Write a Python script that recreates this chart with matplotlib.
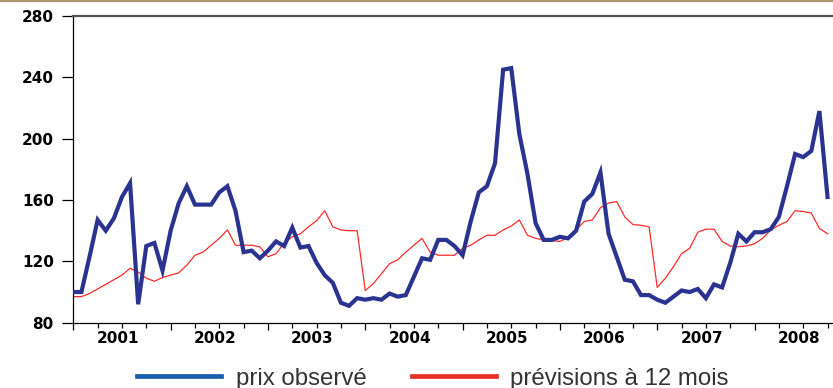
import matplotlib
matplotlib.use("Agg")
import matplotlib.pyplot as plt
from matplotlib.lines import Line2D
import matplotlib.transforms as mtransforms

# ---- data (monthly, Jan 2001 .. Oct 2008) ----
prix_observe = [100, 100, 123, 147, 140, 148, 162, 171, 92, 130, 132, 114,
                140, 158, 169, 157, 157, 157, 165, 169, 153, 126, 127, 122,
                127, 133, 130, 142, 129, 130, 119, 111, 106, 93, 91, 96,
                95, 96, 95, 99, 97, 98, 110, 122, 121, 134, 134, 130,
                124, 146, 165, 169, 184, 245, 246, 203, 177, 145, 134, 134,
                136, 135, 140, 159, 164, 178, 138, 123, 108, 107, 98, 98,
                95, 93, 97, 101, 100, 102, 96, 105, 103, 119, 138, 133,
                139, 139, 141, 149, 169, 190, 188, 192, 218, 162]
previsions_12m = [97, 97, 99, 102, 105, 108, 111, 115.5, 113, 109, 107, 109.5,
                  111, 112.5, 117.5, 124, 126, 130.5, 135, 140.5, 130.5, 130.5, 130.5, 129.5,
                  123, 125, 132, 136, 138, 142.5, 146.5, 153, 142.5, 140.5, 140, 140,
                  101, 105.5, 112, 118.5, 121, 126, 130.5, 135, 126, 124, 124, 124,
                  128.5, 130.5, 134, 137, 137, 140.5, 143, 147, 137, 135, 134, 133.5,
                  133, 135.5, 140.5, 146, 147, 155, 158, 159, 149, 144, 143.5, 142.5,
                  103, 109, 116.5, 125, 128.5, 139, 141, 141, 133, 130, 129.5, 130,
                  131.5, 135, 140.5, 143.5, 146, 153, 152.5, 151.5, 141.5, 138]
years = ["2001", "2002", "2003", "2004", "2005", "2006", "2007", "2008"]
y_ticks = [80, 120, 160, 200, 240, 280]
legend_labels = ["prix observé", "prévisions à 12 mois"]

months = list(range(len(prix_observe)))

W, H = 833, 388
fig = plt.figure(figsize=(W / 100, H / 100), dpi=100)
fig.patch.set_facecolor("white")

left_px, right_px, top_px, bottom_px = 73.3, 833.0, 16.0, 322.7
ax = fig.add_axes([left_px / W, (H - bottom_px) / H,
                   (right_px - left_px) / W, (bottom_px - top_px) / H])
ax.set_facecolor("white")

ax.plot(months, previsions_12m, color="#ff2b2b", lw=0.9, zorder=2)
ax.plot(months, prix_observe, color="#2b3391", lw=3.0, zorder=3,
        solid_joinstyle="miter")

ax.set_xlim(0, (right_px - left_px) / 8.11)
ax.set_ylim(80, 280)

# y axis
ax.set_yticks(y_ticks)
ax.set_yticklabels([str(v) for v in y_ticks])
ax.tick_params(axis="y", direction="out", length=8, width=0.9, pad=6,
               labelsize=11, colors="black")
for lab in ax.get_yticklabels():
    lab.set_fontweight("bold")
    lab.set_family("DejaVu Sans")

# x axis: year ticks + quarterly minor ticks, labels centered in year
n_years = len(years)
ax.set_xticks([12 * i for i in range(n_years)])
ax.set_xticklabels([""] * n_years)
ax.set_xticks([3 * i for i in range(4 * n_years)], minor=True)
ax.tick_params(axis="x", which="major", direction="out", length=5, width=0.9)
ax.tick_params(axis="x", which="minor", direction="out", length=3.5, width=0.9)
trans = mtransforms.blended_transform_factory(ax.transData, ax.transAxes)
for i, yr in enumerate(years):
    ax.text(12 * i + 5.5, -0.052, yr, transform=trans, ha="center", va="center",
            fontsize=11, fontweight="bold", family="DejaVu Sans", color="black")

for s in ["left", "bottom"]:
    ax.spines[s].set_color("black")
    ax.spines[s].set_linewidth(0.9)
ax.spines["top"].set_color("#555555")
ax.spines["top"].set_linewidth(1.6)
ax.spines["right"].set_visible(False)

# thin gold border at the top of the figure
fig.add_artist(Line2D([0, 1], [1 - 0.8 / H, 1 - 0.8 / H], transform=fig.transFigure,
                      color="#a8986c", lw=1.6))

handles = [Line2D([], [], color="#1a5fae", lw=3.4),
           Line2D([], [], color="#e8302a", lw=3.4)]
fig.legend(handles, legend_labels, loc="center", ncol=2, frameon=False,
           bbox_to_anchor=(433 / W, 9.5 / H), prop={"family": "Liberation Sans", "size": 17.3},
           handlelength=3.5, handletextpad=0.6, columnspacing=1.9,
           labelcolor="#333333", borderpad=0, borderaxespad=0)

fig.savefig("out.png", dpi=100, facecolor="white")
